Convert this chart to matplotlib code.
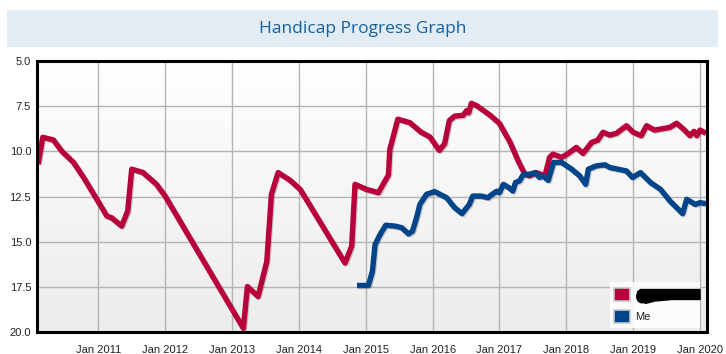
import numpy as np
import matplotlib
matplotlib.use("Agg")
import matplotlib.pyplot as plt
from matplotlib.patches import Rectangle, Polygon, Ellipse
import matplotlib.patheffects as pe

# ---- data (decimal years, handicap index) ----
red_x = [2010.10, 2010.17, 2010.33, 2010.45, 2010.63, 2010.78, 2011.13, 2011.20,
         2011.35, 2011.44, 2011.50, 2011.67, 2011.87, 2012.00, 2013.17, 2013.23,
         2013.39, 2013.52, 2013.59, 2013.69, 2013.87, 2014.02, 2014.69, 2014.79,
         2014.84, 2015.01, 2015.19, 2015.34, 2015.36, 2015.48, 2015.66, 2015.83,
         2015.96, 2016.10, 2016.18, 2016.25, 2016.33, 2016.46, 2016.51, 2016.54,
         2016.58, 2016.66, 2016.86, 2017.00, 2017.16, 2017.28, 2017.38, 2017.45,
         2017.55, 2017.68, 2017.75, 2017.80, 2017.93, 2018.03, 2018.15, 2018.25,
         2018.38, 2018.47, 2018.55, 2018.65, 2018.75, 2018.90, 2019.00, 2019.12,
         2019.20, 2019.32, 2019.55, 2019.65, 2019.75, 2019.85, 2019.91, 2019.95,
         2020.00, 2020.09]
red_y = [10.70, 9.22, 9.37, 9.97, 10.61, 11.44, 13.58, 13.67,
         14.13, 13.30, 10.98, 11.17, 11.82, 12.47, 19.78, 17.47,
         18.02, 16.10, 12.37, 11.17, 11.60, 12.10, 16.17, 15.24,
         11.82, 12.10, 12.28, 11.30, 9.90, 8.22, 8.41, 8.94,
         9.20, 9.94, 9.58, 8.30, 8.05, 8.00, 7.74, 7.87,
         7.34, 7.47, 8.00, 8.45, 9.50, 10.52, 11.26, 11.35,
         11.17, 11.35, 10.33, 10.15, 10.33, 10.11, 9.78, 10.11,
         9.50, 9.38, 8.94, 9.10, 9.00, 8.58, 8.94, 9.13,
         8.58, 8.82, 8.67, 8.44, 8.76, 9.13, 8.89, 9.13,
         8.82, 9.00]

me_x = [2014.87, 2015.04, 2015.10, 2015.14, 2015.20, 2015.23, 2015.30, 2015.44,
        2015.54, 2015.64, 2015.70, 2015.76, 2015.81, 2015.91, 2016.03, 2016.21,
        2016.33, 2016.44, 2016.51, 2016.55, 2016.60, 2016.73, 2016.83, 2016.88,
        2016.96, 2017.00, 2017.06, 2017.14, 2017.20, 2017.24, 2017.30, 2017.36,
        2017.46, 2017.53, 2017.60, 2017.65, 2017.73, 2017.81, 2017.93, 2018.08,
        2018.20, 2018.29, 2018.33, 2018.45, 2018.58, 2018.65, 2018.77, 2018.90,
        2018.99, 2019.11, 2019.26, 2019.41, 2019.55, 2019.74, 2019.80, 2019.93,
        2020.00, 2020.09]
me_y = [17.41, 17.41, 16.63, 15.15, 14.70, 14.50, 14.08, 14.13,
        14.22, 14.56, 14.41, 13.67, 12.93, 12.37, 12.22, 12.56,
        13.11, 13.44, 13.11, 12.93, 12.47, 12.47, 12.56, 12.40,
        12.20, 12.28, 11.82, 12.00, 12.19, 11.72, 11.63, 11.26,
        11.26, 11.17, 11.44, 11.35, 11.60, 10.61, 10.61, 10.98,
        11.35, 11.82, 10.98, 10.80, 10.74, 10.89, 10.98, 11.08,
        11.44, 11.17, 11.72, 12.10, 12.74, 13.44, 12.65, 12.93,
        12.83, 12.89]

tick_years = list(range(2011, 2021))
tick_labels = [f"Jan {y}" for y in tick_years]
y_ticks = [5.0, 7.5, 10.0, 12.5, 15.0, 17.5, 20.0]
series_labels = ["S", "Me"]

RED = "#b8003a"
BLUE = "#00458a"

W, H = 726, 354
fig = plt.figure(figsize=(W / 100, H / 100), dpi=100)
fig.patch.set_facecolor("white")


def fx(px):
    return px / W


def fy(py):
    return 1 - py / H


# title band
fig.patches.append(Rectangle((fx(7), fy(47)), 711 / W, 37 / H,
                             transform=fig.transFigure, facecolor="#e2ecf4",
                             edgecolor="none", zorder=0))
fig.text(0.5, fy(29), "Handicap Progress Graph", ha="center", va="center",
         fontsize=12.5, color="#13609c", family="Open Sans")

ax = fig.add_axes([fx(36.7), fy(332.3), 670 / W, 271.3 / H])

# gradient background
grad = np.linspace(1.0, 0.925, 256).reshape(-1, 1)
ax.imshow(np.dstack([grad, grad, grad]), extent=[0, 1, 0, 1], transform=ax.transAxes,
          aspect="auto", zorder=0, interpolation="bicubic")

ax.set_xlim(2010.079, 2020.10)
ax.set_ylim(20, 5)
ax.set_xticks(tick_years)
ax.set_xticklabels(tick_labels)
ax.set_yticks(y_ticks)
ax.set_yticklabels([f"{v:.1f}" for v in y_ticks])
ax.tick_params(length=0, labelsize=8, colors="#222222", pad=4)
ax.tick_params(axis="x", pad=9)
for lab in ax.get_xticklabels() + ax.get_yticklabels():
    lab.set_family("Liberation Sans")
ax.grid(True, color="#b4b4b4", linewidth=1.0, zorder=1)
ax.set_axisbelow(True)
for s in ax.spines.values():
    s.set_linewidth(2.2)
    s.set_color("black")
    s.set_zorder(5)

shadow = [pe.SimpleLineShadow(offset=(0.8, -0.8), shadow_color="black", alpha=0.18),
          pe.Normal()]
ax.plot(red_x, red_y, color=RED, lw=3.9, solid_joinstyle="round",
        solid_capstyle="butt", zorder=3, path_effects=shadow, label=series_labels[0])
ax.plot(me_x, me_y, color=BLUE, lw=3.9, solid_joinstyle="round",
        solid_capstyle="butt", zorder=3, path_effects=shadow, label=series_labels[1])

# legend (drawn by hand to match the original box)
fig.patches.append(Rectangle((fx(610), fy(328)), 90 / W, 46 / H,
                             transform=fig.transFigure, facecolor="white",
                             alpha=0.85, edgecolor="none", zorder=8))
for i, (col, lab) in enumerate(zip([RED, BLUE], series_labels)):
    cy = 294.5 + 22 * i
    fig.patches.append(Rectangle((fx(613.5), fy(cy + 6.5)), 16.5 / W, 13 / H,
                                 transform=fig.transFigure, facecolor=col,
                                 edgecolor="#c8c8c8", linewidth=1.2, zorder=9))
    fig.text(fx(635), fy(cy + 0.5), lab, ha="left", va="center", fontsize=8,
             family="Liberation Sans", color="#222222", zorder=9)

# redaction blob over the first legend label
blob = Polygon([(fx(640), fy(289.5)), (fx(700), fy(289.5)), (fx(700), fy(299.5)),
                (fx(672), fy(299.5)), (fx(655), fy(301)), (fx(645), fy(303.5))],
               closed=True, transform=fig.transFigure, facecolor="black",
               edgecolor="black", linewidth=1, joinstyle="round", zorder=10)
fig.patches.append(blob)
fig.patches.append(Ellipse((fx(642), fy(296.5)), 12 / W, 14 / H,
                           transform=fig.transFigure, facecolor="black",
                           edgecolor="none", zorder=10))

fig.savefig("out.png", dpi=100)
